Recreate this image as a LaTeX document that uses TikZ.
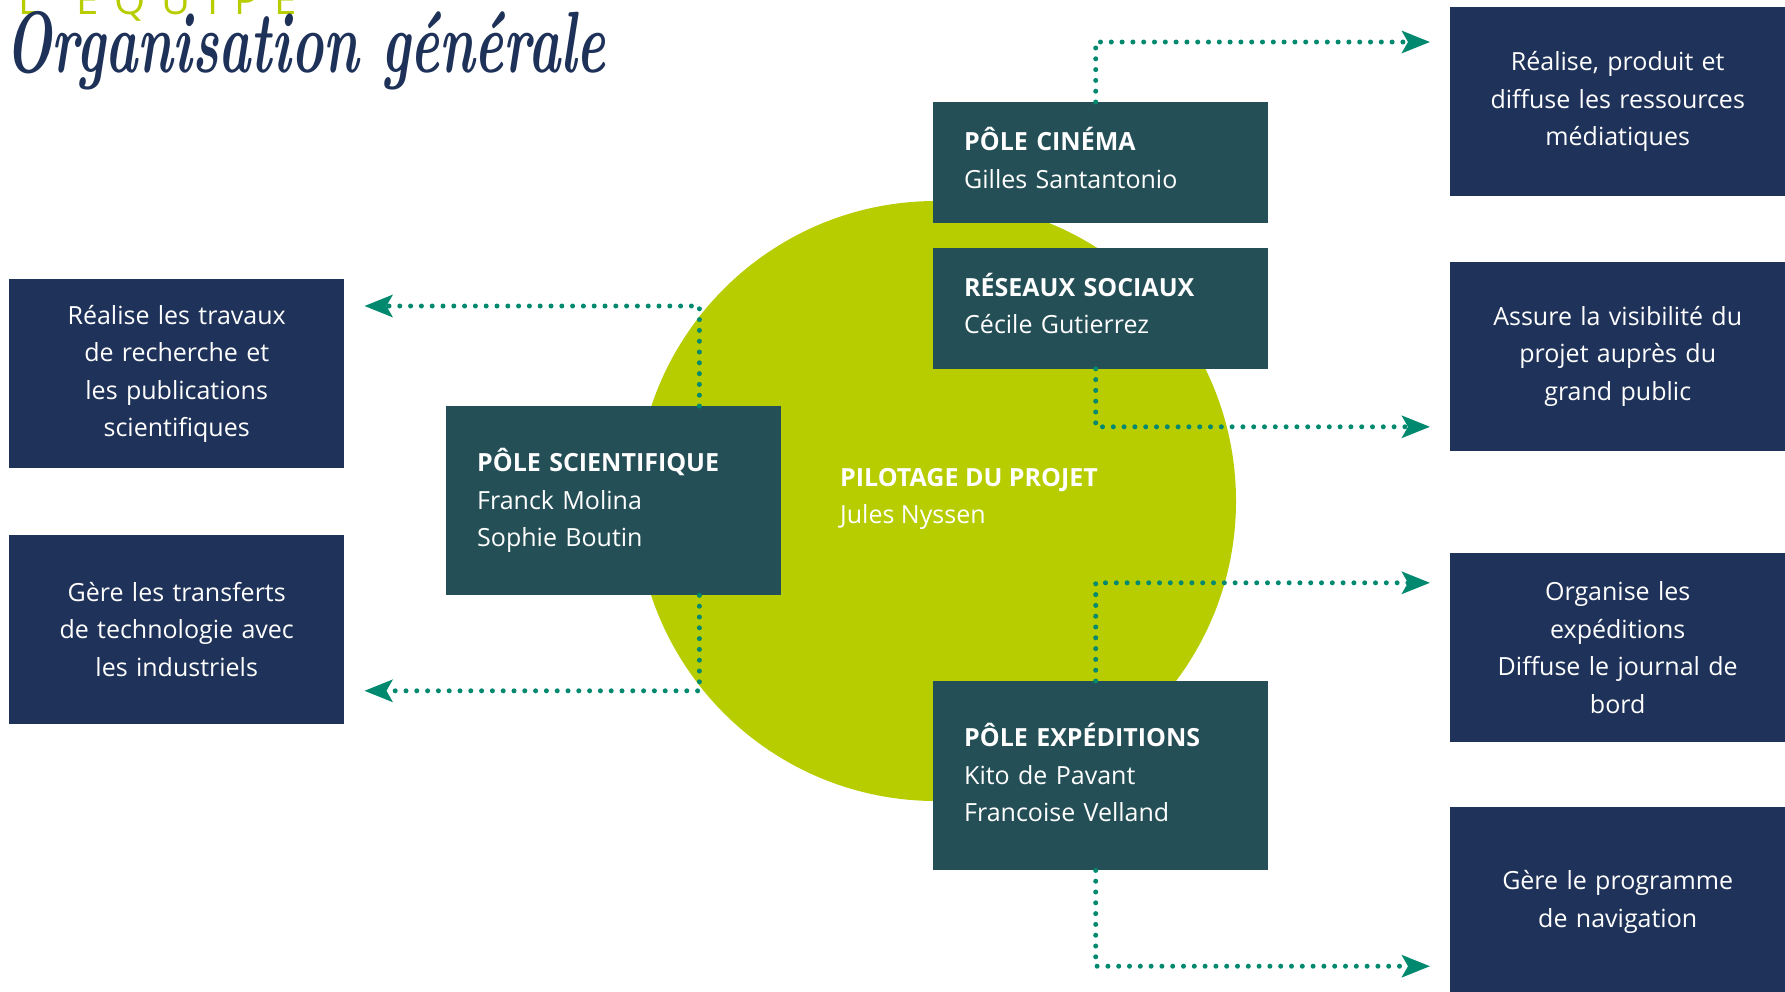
\documentclass[tikz,border=0pt]{standalone}
\usepackage{fontspec}
\usepackage{tikz}
\usepackage{xcolor}
\usetikzlibrary{positioning,arrows.meta}
\newfontfamily\opensans{Open Sans}
\newfontfamily\spacedsans[LetterSpace=40]{Open Sans}
\definecolor{navybox}{RGB}{31,50,89}
\definecolor{polebox}{RGB}{37,79,86}
\definecolor{discgreen}{RGB}{183,205,0}
\definecolor{linkteal}{RGB}{0,137,111}
\definecolor{titlenavy}{RGB}{30,49,88}
\begin{document}
\begin{tikzpicture}
[
x=1pt, y=-1pt,
pole-a/.style={fill=polebox, text=white, text width=273pt, inner xsep=31pt, inner ysep=0pt, minimum height=189pt, align=left, font=\opensans\fontsize{25}{37.5}\selectfont},
pole-b/.style={pole-a, minimum height=121pt, execute at end node={\vspace{9pt}}},
desc-a/.style={fill=navybox, text=white, text width=315pt, inner xsep=10pt, inner ysep=0pt, minimum height=189pt, align=center, font=\opensans\fontsize{25}{37.5}\selectfont},
disc-a/.style={circle, fill=discgreen, minimum size=600pt, inner sep=0pt},
text-a/.style={inner sep=0pt},
link-a/.style={draw=linkteal, line width=5pt, line cap=round, dash pattern=on 0pt off 10.8pt, -{Stealth[length=28pt, width=22pt, inset=6pt, fill=linkteal]}, shorten >=20pt}
]
\useasboundingbox (0,0) rectangle (1785,991);
\clip (0,0) rectangle (1785,991);
\node (team)       [text-a, anchor=base west, text=discgreen, font=\spacedsans\fontsize{40}{40}\selectfont] at (18,14) {L'ÉQUIPE};
\node (title)      [text-a, anchor=base west, text=titlenavy, font=\fontsize{58}{58}\selectfont\bfseries\itshape] at (5,72) {\scalebox{0.94}[1.5]{Organisation générale}};
\node (pilot)      [disc-a] at (936,501) {};
\node (pilot-text) [text-a, anchor=west, text=white, align=left, font=\opensans\fontsize{25}{37.5}\selectfont] at (840,499) {\textbf{PILOTAGE DU PROJET}\\Jules Nyssen};
\node (sci)        [pole-a, anchor=north west] at (446,406) {\textbf{PÔLE SCIENTIFIQUE}\\Franck Molina\\Sophie Boutin};
\node (cinema)     [pole-b, anchor=north west] at (933,102) {\textbf{PÔLE CINÉMA}\\Gilles Santantonio};
\node (social)     [pole-b, below = 24pt of cinema] {\textbf{RÉSEAUX SOCIAUX}\\Cécile Gutierrez};
\node (exped)      [pole-a, anchor=north west, execute at end node={\vspace{6pt}}] at (933,681) {\textbf{PÔLE EXPÉDITIONS}\\Kito de Pavant\\Francoise Velland};
\node (desc-l1)    [desc-a, anchor=north west] at (9,279) {Réalise les travaux\\de recherche et\\les publications\\scientifiques};
\node (desc-l2)    [desc-a, below = 66pt of desc-l1] {Gère les transferts\\de technologie avec\\les industriels};
\node (desc-r1)    [desc-a, anchor=north west] at (1450,7) {Réalise, produit et\\diffuse les ressources\\médiatiques};
\node (desc-r2)    [desc-a, below = 65pt of desc-r1] {Assure la visibilité du\\projet auprès du\\grand public};
\node (desc-r3)    [desc-a, below = 102pt of desc-r2] {Organise les\\expéditions\\Diffuse le journal de\\bord};
\node (desc-r4)    [desc-a, below = 65pt of desc-r3] {Gère le programme\\de navigation};
\draw [link-a] ([xshift=-82pt]sci.north east) |- ([yshift=-27pt]desc-l1.north east);
\draw [link-a] ([xshift=-82pt]sci.south east) |- ([yshift=33pt]desc-l2.south east);
\draw [link-a] ([xshift=-5pt]cinema.north) |- ([yshift=-35pt]desc-r1.north west);
\draw [link-a] ([xshift=-5pt]social.south) |- ([yshift=24pt]desc-r2.south west);
\draw [link-a] ([xshift=-5pt]exped.north) |- ([yshift=-30pt]desc-r3.north west);
\draw [link-a] ([xshift=-5pt]exped.south) |- ([yshift=-159pt]desc-r4.north west);
\end{tikzpicture}
\end{document}
